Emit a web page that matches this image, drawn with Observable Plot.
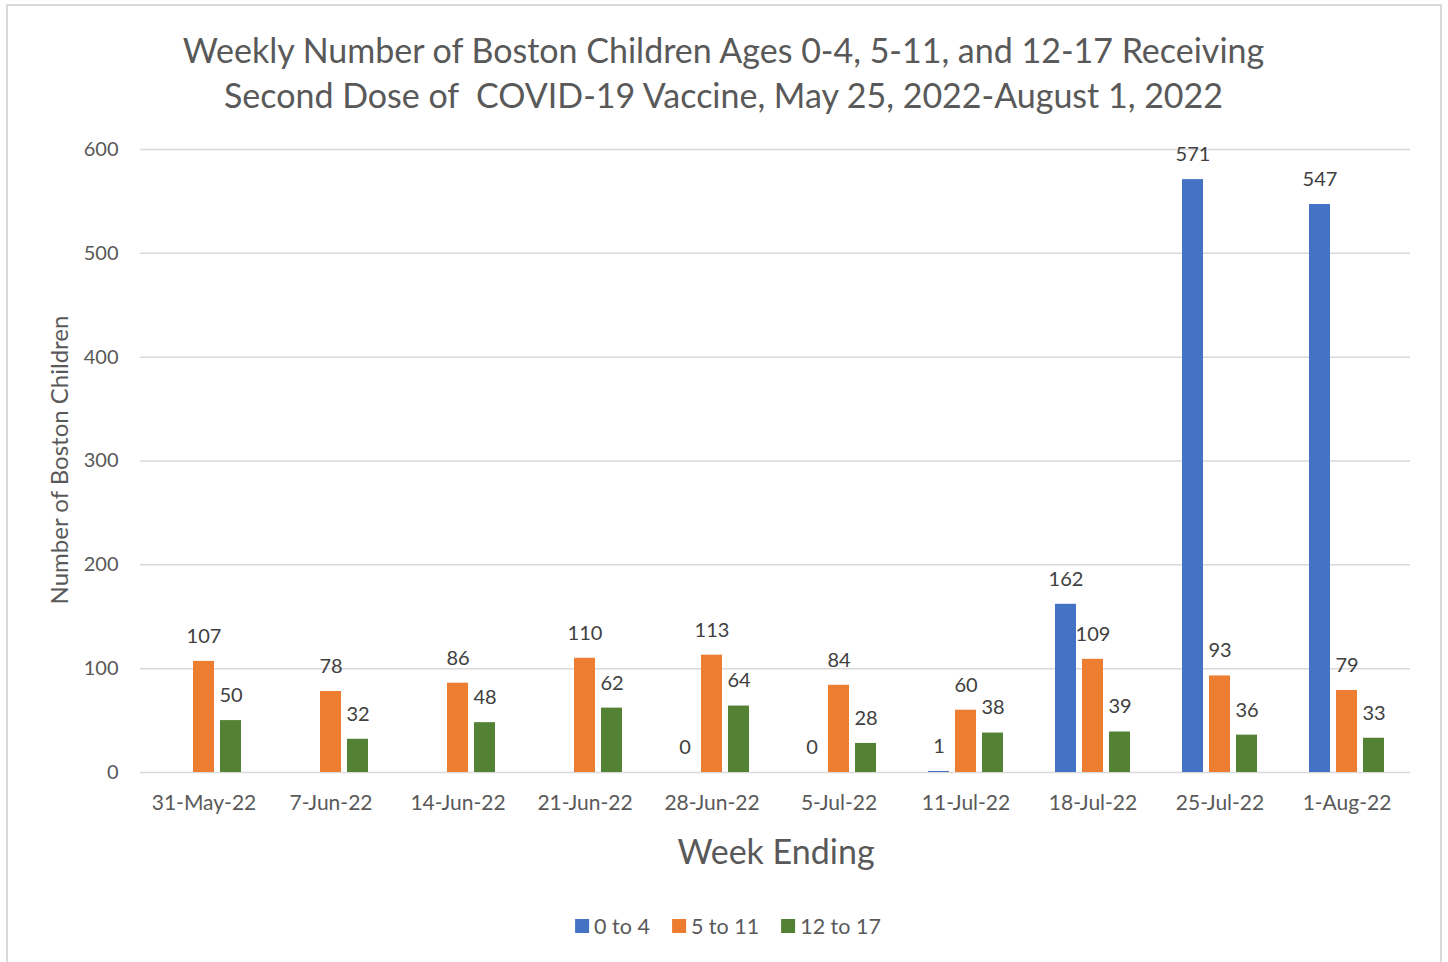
<!DOCTYPE html>
<html><head><meta charset="utf-8">
<script src="https://cdn.jsdelivr.net/npm/d3@7"></script>
<script src="https://cdn.jsdelivr.net/npm/@observablehq/plot@0.6"></script>
<style>
body{margin:0;background:#fff;font-family:Lato,sans-serif;color:#595959;overflow:hidden}
#frame{position:absolute;left:6px;top:4px;width:1436px;height:1000px;border:2px solid #d9d9d9;border-bottom:none;box-sizing:border-box}
#title{position:absolute;left:0;width:1447px;top:27px;text-align:center;font-size:34px;line-height:45px;white-space:pre}
#chart{position:absolute;left:0;top:130px}
#ylab{position:absolute;left:58px;top:460px;transform:translate(-50%,-50%) rotate(-90deg);font-size:24px;white-space:nowrap}
#xlab{position:absolute;left:776px;top:850px;transform:translate(-50%,-50%);font-size:34px;white-space:nowrap}
#legend{position:absolute;left:728px;top:926px;transform:translate(-50%,-50%);font-size:21.5px;white-space:nowrap;display:flex;align-items:center}
#legend span.sw{display:inline-block;width:14px;height:14px;margin-right:5px}
#legend span.it{margin-right:22px;display:flex;align-items:center}
</style></head>
<body>
<div id="frame"></div>
<div id="title">Weekly Number of Boston Children Ages 0-4, 5-11, and 12-17 Receiving
Second Dose of  COVID-19 Vaccine, May 25, 2022-August 1, 2022</div>
<div id="ylab">Number of Boston Children</div>
<div id="chart"></div>
<div id="xlab">Week Ending</div>
<div id="legend"></div>
<script>
const weeks = ["31-May-22","7-Jun-22","14-Jun-22","21-Jun-22","28-Jun-22","5-Jul-22","11-Jul-22","18-Jul-22","25-Jul-22","1-Aug-22"];
const seriesNames = ["0 to 4","5 to 11","12 to 17"];
const seriesColors = ["#4472C4","#ED7D31","#548235"];
const age0to4 = [null,null,null,null,0,0,1,162,571,547];
const age5to11 = [107,78,86,110,113,84,60,109,93,79];
const age12to17 = [50,32,48,62,64,28,38,39,36,33];
const yTicks = [0,100,200,300,400,500,600];

const seriesValues = [age0to4, age5to11, age12to17];
const rows = [];
weeks.forEach((w,i) => {
  seriesNames.forEach((s,j) => {
    const v = seriesValues[j][i];
    if (v !== null) rows.push({week:w, series:s, value:v});
  });
});

const chart = Plot.plot({
  width:1448, height:760,
  marginLeft:139, marginRight:37, marginTop:19, marginBottom:118,
  style:{fontFamily:"Lato", fontSize:"20px", color:"#595959", background:"transparent"},
  fx:{domain:weeks, padding:0, label:null},
  x:{domain:seriesNames, axis:null, paddingInner:0.214, paddingOuter:0.879},
  y:{domain:[0,600], label:null},
  color:{domain:seriesNames, range:seriesColors},
  marks:[
    Plot.gridY(yTicks, {stroke:"#d9d9d9", strokeOpacity:1, strokeWidth:1.5}),
    Plot.axisY(yTicks, {tickSize:0, tickPadding:22, label:null}),
    Plot.axisFx({anchor:"bottom", tickSize:0, tickPadding:23, label:null, fontSize:21}),
    Plot.barY(rows, {fx:"week", x:"series", y:"value", fill:"series"}),
    Plot.text(rows, {fx:"week", x:"series", y:"value", text:d => String(d.value), dy:-25, fill:"#404040", fontSize:20})
  ]
});
document.getElementById("chart").appendChild(chart);

const legend = document.getElementById("legend");
seriesNames.forEach((s,i) => {
  const it = document.createElement("span");
  it.className = "it";
  const sw = document.createElement("span");
  sw.className = "sw";
  sw.style.background = seriesColors[i];
  it.appendChild(sw);
  it.appendChild(document.createTextNode(s));
  legend.appendChild(it);
});
legend.lastChild.style.marginRight = "0";
</script>
</body></html>
